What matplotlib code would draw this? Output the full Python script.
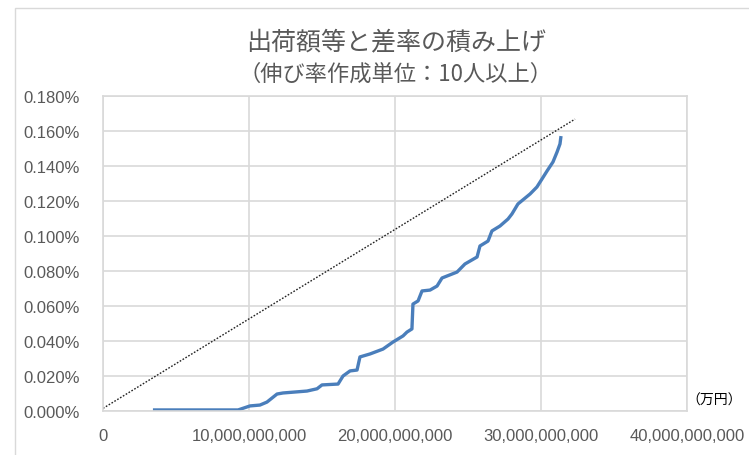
import matplotlib.pyplot as plt
from matplotlib.ticker import FuncFormatter, MultipleLocator
from matplotlib.patches import Rectangle

# 出荷額等（1e9 単位で読み取り）と差率（%）
x_cum = [3.42, 9.25, 10.07, 10.75, 11.23, 11.92, 12.33, 13.97, 14.66, 15.0,
         16.1, 16.44, 16.92, 17.4, 17.6, 18.29, 19.18, 19.86, 20.55, 20.82,
         21.16, 21.23, 21.58, 21.85, 22.40, 22.88, 23.22, 24.25, 24.79, 25.62,
         25.82, 26.37, 26.64, 27.19, 27.74, 28.01, 28.42, 29.25, 29.72, 30.07,
         30.41, 30.82, 31.10, 31.30, 31.37]
y_cum = [0.0006, 0.0006, 0.0029, 0.0034, 0.0051, 0.0097, 0.0103, 0.0114, 0.0127, 0.0149,
         0.0154, 0.0200, 0.0229, 0.0234, 0.0309, 0.0326, 0.0354, 0.0394, 0.0429, 0.0451,
         0.0469, 0.0611, 0.0629, 0.0686, 0.0691, 0.0714, 0.0760, 0.0794, 0.0840, 0.0880,
         0.0943, 0.0971, 0.1029, 0.1057, 0.1097, 0.1126, 0.1183, 0.1240, 0.1280, 0.1326,
         0.1371, 0.1423, 0.1480, 0.1526, 0.1571]
x_cum = [v * 1e9 for v in x_cum]

# 点線（対角線）
x_line = [0, 32.33e9]
y_line = [0.0015, 0.1668]

title = '出荷額等と差率の積み上げ'
subtitle = '（伸び率作成単位：10人以上）'
unit = '（万円）'

plt.rcParams['font.family'] = ['Liberation Sans', 'Noto Sans CJK JP', 'DejaVu Sans']
gray = '#595959'
grid_c = '#D9D9D9'
jp = ['Noto Sans CJK JP', 'DejaVu Sans']

fig = plt.figure(figsize=(7.49, 4.56), dpi=100)
# 外枠
fig.patches.append(Rectangle((15 / 749, -0.1), 1.2, 1 - 9 / 456 + 0.1, transform=fig.transFigure,
                             fill=False, edgecolor=grid_c, linewidth=1))

ax = fig.add_axes([103 / 749, 1 - 412 / 456, 584 / 749, 315 / 456])
ax.plot(x_line, y_line, color='#222222', linestyle=(0, (1.2, 1.2)), linewidth=1.0)
ax.plot(x_cum, y_cum, color='#4A7EBB', linewidth=2.4, solid_capstyle='butt')

ax.set_xlim(0, 40e9)
ax.set_ylim(0, 0.18)
ax.xaxis.set_major_locator(MultipleLocator(10e9))
ax.yaxis.set_major_locator(MultipleLocator(0.02))
ax.xaxis.set_major_formatter(FuncFormatter(lambda v, p: '{:,.0f}'.format(v)))
ax.yaxis.set_major_formatter(FuncFormatter(lambda v, p: '{:.3f}%'.format(v)))
ax.grid(True, color=grid_c, linewidth=1.2)
ax.set_axisbelow(True)
for s in ax.spines.values():
    s.set_color(grid_c)
    s.set_linewidth(1.2)
ax.tick_params(length=0, labelsize=12, colors=gray, pad=17)
ax.tick_params(axis='x', pad=12)

fig.text(396 / 749, 1 - 42 / 456, title, ha='center', va='center', fontsize=18, color=gray, family=jp)
fig.text(396 / 749, 1 - 74 / 456, subtitle, ha='center', va='center', fontsize=16, color=gray, family=jp)
fig.text(714 / 749, 1 - 401 / 456, unit, ha='center', va='center', fontsize=10, color='black', family=jp)

fig.savefig('out.png', dpi=100)
